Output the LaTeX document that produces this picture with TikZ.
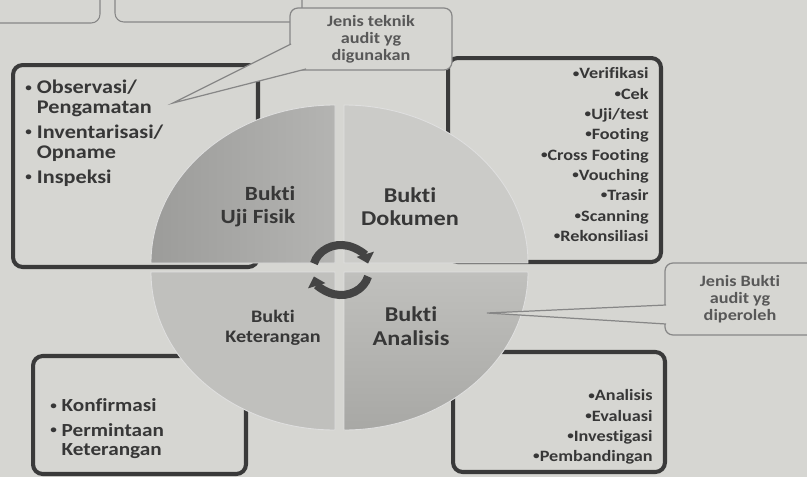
\documentclass[tikz,border=0pt]{standalone}
\usepackage{fontspec}
\setmainfont{Carlito}[FakeStretch=1.15, Ligatures=NoCommon]
\usetikzlibrary{positioning, arrows.meta}
\definecolor{paper}{RGB}{214,214,210}
\definecolor{boxline}{RGB}{58,58,58}
\definecolor{txt}{RGB}{55,55,55}
\definecolor{fisikL}{RGB}{156,156,154}
\definecolor{fisikR}{RGB}{180,180,178}
\definecolor{dokumenc}{RGB}{203,203,200}
\definecolor{keteranganc}{RGB}{192,192,189}
\definecolor{analisisA}{RGB}{168,168,165}
\definecolor{analisisB}{RGB}{192,192,189}
\definecolor{callline}{RGB}{135,135,135}
\definecolor{calltxt}{RGB}{88,88,88}
\definecolor{arrowc}{RGB}{68,68,68}
\newcommand{\listbullet}{\raisebox{0.25ex}{\fontsize{6.5}{6.5}\selectfont •}}

\begin{document}
\begin{tikzpicture}[x=0.02cm, y=0.02cm]
  \tikzset{
    listbox/.style={
      draw=boxline,
      line width=2.3pt,
      rounded corners=5.5pt,
      inner sep=0pt,
      outer sep=0pt
    },
    pagebox/.style={
      draw=callline,
      line width=0.6pt,
      rounded corners=5pt,
      inner sep=0pt
    },
    quadrant/.style={
      draw=white!75!gray,
      line width=0.5pt
    },
    listtext/.style={
      inner sep=0pt,
      text=txt
    },
    label/.style={
      inner sep=0pt,
      text=txt,
      align=center
    },
    callout/.style={
      draw=callline,
      fill=paper,
      line width=0.7pt,
      rounded corners=4.5pt,
      inner sep=0pt,
      align=center,
      text=calltxt,
      font=\fontsize{9}{9.6}\selectfont\bfseries
    },
    cyclearrow/.style={
      draw=arrowc,
      line width=4.6pt,
      -{Triangle[length=5.5pt, width=10pt]}
    }
  }
  \useasboundingbox (0,0) rectangle (807,-477);
  \clip (0,0) rectangle (807,-477);
  \fill[paper] (0,0) rectangle (807,-477);

  % Boxes of the page cut off at the top
  \node[pagebox, minimum width=2.4cm, minimum height=1.06cm] (pageA) at (40,3.5) {};
  \node[pagebox, minimum width=3.74cm, minimum height=1.04cm] (pageB) at (208.5,4) {};

  % Draw the list boxes
  \node[listbox, minimum width=4.9cm, minimum height=4.04cm] (fisikbox) at (135.5,-166) {};
  \node[listbox, minimum width=4.26cm, minimum height=4.08cm] (dokumenbox) at (554.5,-160) {};
  \node[listbox, minimum width=4.26cm, minimum height=2.36cm] (keteranganbox) at (139.5,-415) {};
  \node[listbox, minimum width=4.24cm, minimum height=2.4cm] (analisisbox) at (559,-412) {};

  % Draw the four quarters of the circle
  \path[quadrant, left color=fisikL, right color=fisikR]
    (335,-263) -- (151,-263) arc[start angle=180, end angle=90, x radius=184, y radius=158] -- cycle;
  \path[quadrant, fill=dokumenc]
    (344,-263) -- (344,-105) arc[start angle=90, end angle=0, x radius=184, y radius=158] -- cycle;
  \path[quadrant, fill=keteranganc]
    (335,-272) -- (151,-272) arc[start angle=180, end angle=270, x radius=184, y radius=158] -- cycle;
  \path[quadrant, top color=analisisB, bottom color=analisisA]
    (344,-272) -- (528,-272) arc[start angle=0, end angle=-90, x radius=184, y radius=158] -- cycle;

  % Quarter labels
  \node[label, align=right, font=\fontsize{11.5}{13}\selectfont\bfseries] (fisik) at (258,-206.5) {Bukti\\Uji Fisik};
  \node[label, font=\fontsize{12}{13}\selectfont\bfseries] (dokumen) at (410,-206.5) {Bukti\\Dokumen};
  \node[label, font=\fontsize{10}{11.3}\selectfont\bfseries] (keterangan) at (273,-328) {Bukti\\Keterangan};
  \node[label, font=\fontsize{12}{13.6}\selectfont\bfseries] (analisis) at (411,-326) {Bukti\\Analisis};

  % Turning arrows in the middle
  \coordinate (hub) at (341,-270);
  \draw[cyclearrow] ([shift={(165:28 and 25)}]hub) arc[start angle=165, end angle=15, x radius=28, y radius=25];
  \draw[cyclearrow] ([shift={(-15:28 and 25)}]hub) arc[start angle=-15, end angle=-165, x radius=28, y radius=25];

  % Lists inside the boxes
  \node[listtext, anchor=north west, align=left, font=\fontsize{11}{11.3}\selectfont\bfseries]
    (fisiklist) at ([shift={(12,-14.5)}]fisikbox.north west)
    {\listbullet\ Observasi/\\\hphantom{\listbullet\ }Pengamatan\\[2.9pt]\listbullet\ Inventarisasi/\\\hphantom{\listbullet\ }Opname\\[2.9pt]\listbullet\ Inspeksi};
  \node[listtext, anchor=north east, align=right, font=\fontsize{9}{11.55}\selectfont\bfseries]
    (dokumenlist) at ([shift={(-12,-9.5)}]dokumenbox.north east)
    {\listbullet Verifikasi\\\listbullet Cek\\\listbullet Uji/test\\\listbullet Footing\\\listbullet Cross Footing\\\listbullet Vouching\\\listbullet Trasir\\\listbullet Scanning\\\listbullet Rekonsiliasi};
  \node[listtext, anchor=north west, align=left, font=\fontsize{10.5}{11.3}\selectfont\bfseries]
    (keteranganlist) at ([shift={(17,-42)}]keteranganbox.north west)
    {\listbullet\ Konfirmasi\\[2.8pt]\listbullet\ Permintaan\\\hphantom{\listbullet\ }Keterangan};
  \node[listtext, anchor=north east, align=right, font=\fontsize{9}{11.5}\selectfont\bfseries]
    (analisislist) at ([shift={(-12,-37.5)}]analisisbox.north east)
    {\listbullet Analisis\\\listbullet Evaluasi\\\listbullet Investigasi\\\listbullet Pembandingan};

  % Callouts
  \node[callout, minimum width=3.24cm, minimum height=1.24cm] (teknik) at (371,-39) {Jenis teknik\\audit yg\\digunakan};
  \coordinate (tekniktip) at (173,-103);
  \coordinate (teknikA) at (291,-44);
  \coordinate (teknikB) at (306,-69);
  \fill[paper] (teknikA) -- (tekniktip) -- (teknikB) -- cycle;
  \draw[callline, line width=0.7pt] (teknikA) -- (tekniktip) -- (teknikB);

  \node[callout, minimum width=3cm, minimum height=1.44cm] (bukti) at (740,-299) {Jenis Bukti\\audit yg\\diperoleh};
  \coordinate (buktitip) at (487,-313);
  \coordinate (buktiA) at (666,-305);
  \coordinate (buktiB) at (666,-324);
  \fill[paper] (buktiA) -- (buktitip) -- (buktiB) -- cycle;
  \draw[callline, line width=0.7pt] (buktiA) -- (buktitip) -- (buktiB);
\end{tikzpicture}
\end{document}
